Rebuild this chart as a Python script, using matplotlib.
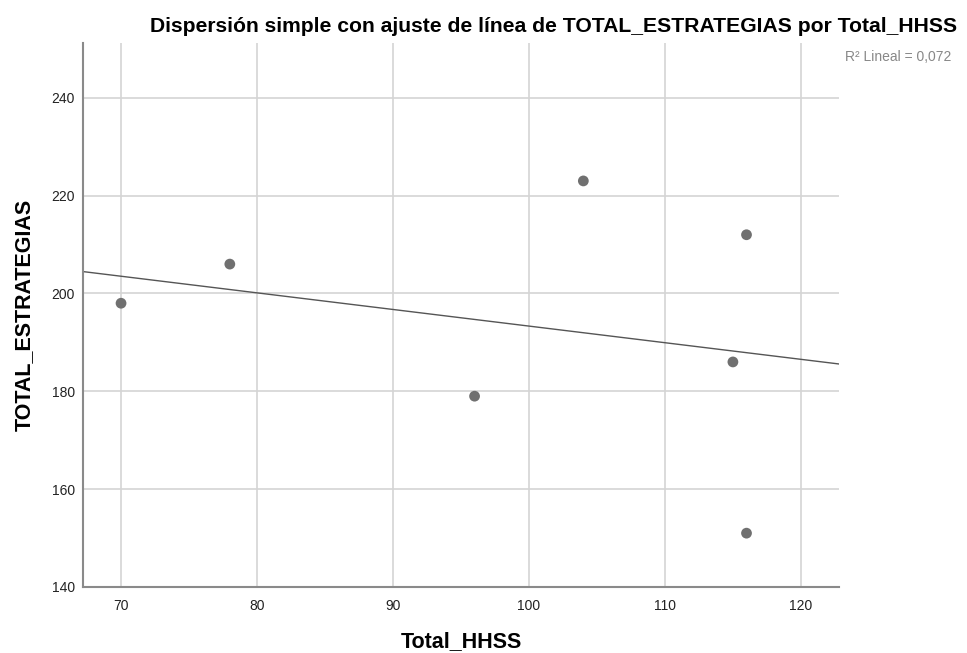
import matplotlib
matplotlib.use("Agg")
import matplotlib.pyplot as plt
import numpy as np

plt.rcParams['font.family'] = ['Liberation Sans', 'DejaVu Sans']

# data
total_hhss = np.array([70, 78, 96, 104, 116, 115, 116])
total_estrategias = np.array([198, 206, 179, 223, 212, 186, 151])
x_ticks = [70, 80, 90, 100, 110, 120]
y_ticks = [140, 160, 180, 200, 220, 240]

slope, intercept = np.polyfit(total_hhss, total_estrategias, 1)
r2 = np.corrcoef(total_hhss, total_estrategias)[0, 1] ** 2

fig = plt.figure(figsize=(9.67, 6.53), dpi=100)
ax = fig.add_axes([0.0858, 0.1011, 0.7818, 0.8331])

xlim = (67.2, 122.8)
ylim = (140, 251.2)
ax.set_xlim(xlim)
ax.set_ylim(ylim)

ax.set_xticks(x_ticks)
ax.set_yticks(y_ticks)
ax.grid(True, color='#d4d4d4', linewidth=1.2)
ax.set_axisbelow(True)

xs = np.array(xlim)
ax.plot(xs, intercept + slope * xs, color='#555555', linewidth=1.0, zorder=2)
ax.scatter(total_hhss, total_estrategias, s=60, color='#707070', edgecolors='none', zorder=3)

for side in ['top', 'right']:
    ax.spines[side].set_visible(False)
for side in ['left', 'bottom']:
    ax.spines[side].set_color('#8a8a8a')
    ax.spines[side].set_linewidth(1.5)

ax.tick_params(axis='both', length=0, labelsize=10, colors='#222222')
ax.tick_params(axis='x', pad=9)
ax.tick_params(axis='y', pad=6)

ax.set_xlabel('Total_HHSS', fontsize=15.5, fontweight='bold', labelpad=13)
ax.set_ylabel('TOTAL_ESTRATEGIAS', fontsize=15.5, fontweight='bold', labelpad=12)

fig.text(957 / 967, 1 - 27 / 653, 'Dispersión simple con ajuste de línea de TOTAL_ESTRATEGIAS por Total_HHSS',
         ha='right', va='center', fontsize=15.2, fontweight='bold')
fig.text(845 / 967, 1 - 57 / 653, f'R² Lineal = {r2:.3f}'.replace('.', ','),
         ha='left', va='center', fontsize=10, color='#888888')

fig.savefig('out.png', dpi=100)
